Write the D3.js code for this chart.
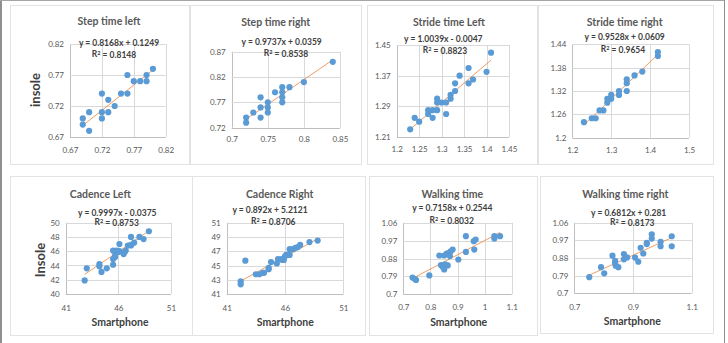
<!DOCTYPE html>
<html>
<head>
<meta charset="utf-8">
<script src="https://cdn.jsdelivr.net/npm/d3@7"></script>
<style>
  html, body { margin: 0; padding: 0; background: #fff; }
  svg { display: block; font-family: Lato, "Open Sans", sans-serif; }
</style>
</head>
<body>
<svg id="chart" width="728" height="343"></svg>
<script>
// ---- Data: smartphone (x) vs insole (y) measurements ----
const stepLeftX  = [0.69,0.69,0.70,0.70,0.72,0.72,0.72,0.73,0.73,0.74,0.75,0.76,0.76,0.77,0.78,0.79,0.79,0.80];
const stepLeftY  = [0.70,0.69,0.71,0.68,0.74,0.71,0.70,0.73,0.71,0.72,0.74,0.77,0.74,0.76,0.76,0.77,0.76,0.78];

const stepRightX = [0.72,0.72,0.73,0.74,0.74,0.74,0.75,0.75,0.75,0.76,0.77,0.77,0.77,0.77,0.78,0.80,0.84];
const stepRightY = [0.74,0.73,0.75,0.78,0.76,0.74,0.77,0.76,0.75,0.79,0.80,0.79,0.78,0.77,0.80,0.81,0.85];

const strideLeftX = [1.23,1.24,1.25,1.27,1.27,1.28,1.28,1.29,1.29,1.29,1.30,1.31,1.31,1.32,1.32,1.33,1.33,1.34,1.36,1.36,1.37,1.40,1.41];
const strideLeftY = [1.23,1.26,1.25,1.28,1.27,1.28,1.26,1.28,1.31,1.30,1.30,1.30,1.27,1.32,1.31,1.33,1.35,1.37,1.35,1.39,1.36,1.38,1.43];

const strideRightX = [1.23,1.25,1.26,1.27,1.28,1.29,1.29,1.30,1.30,1.32,1.32,1.34,1.34,1.34,1.36,1.38,1.42,1.42];
const strideRightY = [1.24,1.25,1.25,1.27,1.27,1.29,1.30,1.31,1.30,1.31,1.32,1.32,1.34,1.35,1.36,1.37,1.41,1.42];

const cadenceLeftX = [42.8,43.0,44.2,44.2,44.4,44.9,45.5,45.5,45.5,45.7,45.7,45.8,46.0,46.1,46.1,46.5,46.6,46.7,46.9,47.2,47.2,47.2,47.5,48.0,48.4,48.9];
const cadenceLeftY = [41.9,43.6,44.2,43.9,43.1,43.6,44.1,44.9,46.1,45.2,45.5,46.1,45.9,47.0,46.0,45.6,45.9,46.1,46.8,46.8,48.0,46.9,47.2,48.0,47.7,48.8];

const cadenceRightX = [42.2,42.2,42.6,43.5,43.8,44.1,44.2,44.6,44.6,44.8,45.3,45.4,45.7,45.8,45.9,46.0,46.1,46.3,46.4,46.4,46.7,46.9,47.1,47.3,48.1,48.8];
const cadenceRightY = [42.8,42.4,45.7,43.8,43.8,44.0,44.0,44.5,44.7,45.5,45.3,45.9,45.9,45.8,45.8,46.3,46.5,46.5,46.5,47.3,47.3,47.5,47.6,47.9,48.3,48.5];

const walkX = [0.734,0.743,0.747,0.796,0.833,0.839,0.845,0.851,0.851,0.854,0.860,0.864,0.869,0.872,0.875,0.882,0.903,0.931,0.931,0.960,0.962,0.967,1.036,1.036,1.057];
const walkY = [0.784,0.777,0.772,0.795,0.895,0.847,0.839,0.895,0.825,0.850,0.905,0.845,0.908,0.892,0.916,0.925,0.875,0.992,0.913,0.967,0.925,0.975,0.992,0.980,0.992];

const walkRightX = [0.751,0.791,0.802,0.830,0.839,0.839,0.841,0.850,0.869,0.869,0.880,0.907,0.918,0.926,0.935,0.947,0.947,0.964,0.964,0.994,0.994,1.032,1.032];
const walkRightY = [0.782,0.833,0.802,0.892,0.865,0.853,0.841,0.833,0.900,0.873,0.883,0.882,0.861,0.932,0.903,0.957,0.951,1.001,0.979,0.962,0.940,0.991,0.940];

// ---- Titles, fitted trend lines, axis ticks ----
const titles = ["Step time left","Step time right","Stride time Left","Stride time right",
                "Cadence Left","Cadence Right","Walking time","Walking time right"];
const slopes     = [0.8168, 0.9737, 1.0039, 0.9528, 0.9997, 0.892, 0.7158, 0.6812];
const intercepts = [0.1249, 0.0359, -0.0047, 0.0609, -0.0375, 5.2121, 0.2544, 0.281];
const equations  = ["y = 0.8168x + 0.1249","y = 0.9737x + 0.0359","y = 1.0039x - 0.0047","y = 0.9528x + 0.0609",
                    "y = 0.9997x - 0.0375","y = 0.892x + 5.2121","y = 0.7158x + 0.2544","y = 0.6812x + 0.281"];
const rSquared   = ["0.8148","0.8538","0.8823","0.9654","0.8753","0.8706","0.8032","0.8173"];

const xTicks = [
  [0.67,0.72,0.77,0.82],
  [0.7,0.75,0.8,0.85],
  [1.2,1.25,1.3,1.35,1.4,1.45],
  [1.2,1.3,1.4,1.5],
  [41,46,51],
  [41,46,51],
  [0.7,0.8,0.9,1,1.1],
  [0.7,0.9,1.1]
];
const yTicks = [
  [0.67,0.72,0.77,0.82],
  [0.72,0.77,0.82,0.87],
  [1.21,1.29,1.37,1.45],
  [1.2,1.26,1.32,1.38,1.44],
  [40,42,44,46,48,50],
  [41,43,45,47,49,51],
  [0.7,0.79,0.88,0.97,1.06],
  [0.7,0.79,0.88,0.97,1.06]
];
const yAxisTitles = ["insole", null, null, null, "Insole", null, null, null];
const xAxisTitles = [null, null, null, null, "Smartphone", "Smartphone", "Smartphone", "Smartphone"];

const seriesX = [stepLeftX, stepRightX, strideLeftX, strideRightX, cadenceLeftX, cadenceRightX, walkX, walkRightX];
const seriesY = [stepLeftY, stepRightY, strideLeftY, strideRightY, cadenceLeftY, cadenceRightY, walkY, walkRightY];

// ---- Layout of each chart box (frame, plot area, text anchors) ----
const layout = [
  {box:[10,5,179,159],   plot:[70,165.7,44,137],    title:[109,21],   eq:[119,43],   r2:[114,54],   xt:150,   ylab:[35,90]},
  {box:[190,5,171,159],  plot:[231.7,340,51.7,127.7], title:[275.7,22], eq:[281.7,42], r2:[286,53],  xt:139.5},
  {box:[367,5,170,159],  plot:[396.7,509,45,137],   title:[449,22.7], eq:[443.3,39], r2:[445,50],   xt:149},
  {box:[538,5,175,159],  plot:[572.3,689,44.3,137.7], title:[624.7,22.3], eq:[624.7,37], r2:[623,48.7], xt:150},
  {box:[10,176,182,159], plot:[65.7,171,222.7,294],  title:[100.3,194], eq:[117.3,212.7], r2:[116.7,221.7], xt:308, xlab:[120,322.7], ylab:[40,260]},
  {box:[192,176,173,159],plot:[226.7,343.3,222.7,294.3], title:[279.7,194], eq:[270,210], r2:[273.3,220.7], xt:308, xlab:[285.3,322.7]},
  {box:[369,176,168,159],plot:[403.3,511.7,222.7,294.3], title:[452.3,194], eq:[452.3,208.3], r2:[451.7,220], xt:306.7, xlab:[458.7,322.7]},
  {box:[540,176,173,157],plot:[574.3,691.7,222.7,293.3], title:[625.3,194], eq:[628.7,212.7], r2:[632.3,221.7], xt:306.7, xlab:[632.3,321.7]}
];

const svg = d3.select("#chart");

// outer frame
svg.append("line").attr("x1",1).attr("y1",0).attr("x2",1).attr("y2",343).attr("stroke","#8f8f8f").attr("stroke-width",2);
svg.append("line").attr("x1",0).attr("y1",0.5).attr("x2",725).attr("y2",0.5).attr("stroke","#a6a6a6").attr("stroke-width",1);
svg.append("line").attr("x1",724.5).attr("y1",0).attr("x2",724.5).attr("y2",343).attr("stroke","#8f8f8f").attr("stroke-width",1);

titles.forEach((title, i) => {
  const L = layout[i];
  const g = svg.append("g");
  const [bx, by, bw, bh] = L.box;
  g.append("rect").attr("x", bx + 0.5).attr("y", by + 0.5).attr("width", bw).attr("height", bh)
    .attr("fill", "#fff").attr("stroke", "#e3e3e3").attr("stroke-width", 1);

  const [px0, px1, pyTop, pyBot] = L.plot;
  const xt = xTicks[i], yt = yTicks[i];
  const x = d3.scaleLinear().domain([xt[0], xt[xt.length - 1]]).range([px0, px1]);
  const y = d3.scaleLinear().domain([yt[0], yt[yt.length - 1]]).range([pyBot, pyTop]);

  // gridlines
  g.append("g").selectAll("line").data(xt).join("line")
    .attr("x1", d => Math.round(x(d)) + 0.5).attr("x2", d => Math.round(x(d)) + 0.5)
    .attr("y1", pyTop).attr("y2", pyBot)
    .attr("stroke", d => d === xt[0] ? "#bfbfbf" : "#d9d9d9").attr("stroke-width", 1);
  g.append("g").selectAll("line").data(yt).join("line")
    .attr("y1", d => Math.round(y(d)) + 0.5).attr("y2", d => Math.round(y(d)) + 0.5)
    .attr("x1", px0).attr("x2", px1)
    .attr("stroke", d => d === yt[0] ? "#bfbfbf" : "#d9d9d9").attr("stroke-width", 1);

  // axes labels
  const xAxis = d3.axisBottom(x).tickValues(xt).tickSize(0).tickPadding(0).tickFormat(d => String(d));
  const gx = g.append("g").attr("transform", `translate(0,${L.xt})`).call(xAxis);
  gx.select(".domain").remove();
  gx.selectAll("text").attr("dy", "0.35em").attr("fill", "#595959")
    .style("font-size", "8px").style("font-family", "Lato, sans-serif");

  const yAxis = d3.axisLeft(y).tickValues(yt).tickSize(0).tickPadding(0).tickFormat(d => String(d));
  const gy = g.append("g").attr("transform", `translate(${px0 - 6},0)`).call(yAxis);
  gy.select(".domain").remove();
  gy.selectAll("text").attr("fill", "#595959")
    .style("font-size", "8px").style("font-family", "Lato, sans-serif");

  // trend line across the observed x range
  const xs = seriesX[i], ys = seriesY[i];
  const [xmin, xmax] = d3.extent(xs);
  const fit = v => slopes[i] * v + intercepts[i];
  g.append("path")
    .attr("d", d3.line().x(d => x(d)).y(d => y(fit(d)))([xmin, xmax]))
    .attr("stroke", "#ED7D31").attr("stroke-width", 0.9).attr("fill", "none").attr("opacity", 0.85);

  // points
  g.append("g").selectAll("circle").data(xs.map((v, k) => [v, ys[k]])).join("circle")
    .attr("cx", d => x(d[0])).attr("cy", d => y(d[1])).attr("r", 3.1)
    .attr("fill", "#5B9BD5");

  // title & equation
  g.append("text").attr("x", L.title[0]).attr("y", L.title[1]).attr("dy", "0.35em")
    .attr("text-anchor", "middle").attr("fill", "#595959")
    .style("font-size", "10.5px").style("font-weight", "700").text(title);
  g.append("text").attr("x", L.eq[0]).attr("y", L.eq[1]).attr("dy", "0.35em")
    .attr("text-anchor", "middle").attr("fill", "#404040")
    .style("font-size", "8.5px").style("font-weight", "700").text(equations[i]);
  const r2 = g.append("text").attr("x", L.r2[0]).attr("y", L.r2[1]).attr("dy", "0.35em")
    .attr("text-anchor", "middle").attr("fill", "#404040")
    .style("font-size", "8.5px").style("font-weight", "700");
  r2.append("tspan").text("R");
  r2.append("tspan").attr("dy", "-0.35em").style("font-size", "5.5px").text("2");
  r2.append("tspan").attr("dy", "0.35em").text(" = " + rSquared[i]);

  if (yAxisTitles[i]) {
    g.append("text").attr("transform", `translate(${L.ylab[0]},${L.ylab[1]}) rotate(-90)`)
      .attr("dy", "0.35em").attr("text-anchor", "middle").attr("fill", "#404040")
      .style("font-size", "13px").style("font-weight", "700").text(yAxisTitles[i]);
  }
  if (xAxisTitles[i]) {
    g.append("text").attr("x", L.xlab[0]).attr("y", L.xlab[1]).attr("dy", "0.35em")
      .attr("text-anchor", "middle").attr("fill", "#404040")
      .style("font-size", "10.5px").style("font-weight", "700").text(xAxisTitles[i]);
  }
});
</script>
</body>
</html>
